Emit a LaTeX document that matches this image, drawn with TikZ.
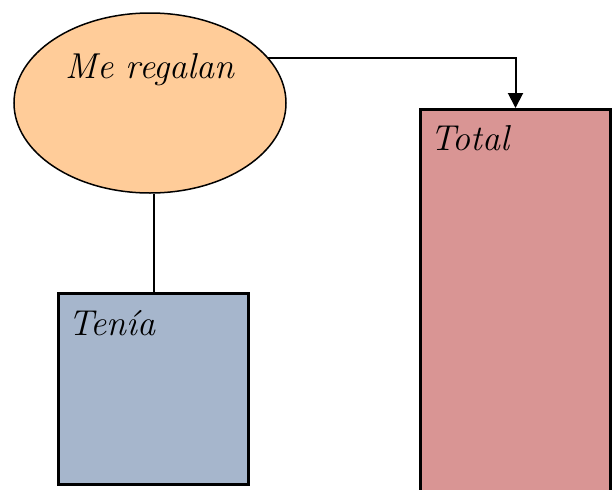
\documentclass[tikz,border=0pt]{standalone}
\usepackage{tikz}
\usetikzlibrary{arrows.meta, shapes.geometric, calc}

\definecolor{regalanfill}{HTML}{FFCC99}
\definecolor{teniafill}{HTML}{A6B6CC}
\definecolor{totalfill}{HTML}{D99594}

\begin{document}
\begin{tikzpicture}[x=1pt, y=-1pt,
        caja/.style={draw, line width=3pt, rectangle, inner sep=0pt, anchor=north west},
        rotulo/.style={anchor=base west, inner sep=0pt, font=\fontsize{36}{42}\selectfont\itshape},
        enlace/.style={line width=2pt}]
        \useasboundingbox (0,0) rectangle (616,490);

        \node (regalan) [draw, ellipse, line width=1.5pt, fill=regalanfill,
            minimum width=272pt, minimum height=180pt, inner sep=0pt] at (150,103) {};
        \node (regalantxt) [rotulo, anchor=base] at (150,78) {Me regalan};

        \node (tenia) [caja, fill=teniafill, minimum width=190pt, minimum height=191pt] at (57,292) {};
        \node (teniatxt) [rotulo] at (68,335) {Ten\'ia};

        \node (total) [caja, fill=totalfill, minimum width=190pt, minimum height=420pt] at (419,108) {};
        \node (totaltxt) [rotulo] at (430,150) {Total};

        \draw[enlace] (tenia.north) -- (tenia.north |- regalan.south);
        \draw[enlace, -{Triangle[width=15pt, length=15pt]}] (regalan.21) -| (total.north);
    \end{tikzpicture}
\end{document}
